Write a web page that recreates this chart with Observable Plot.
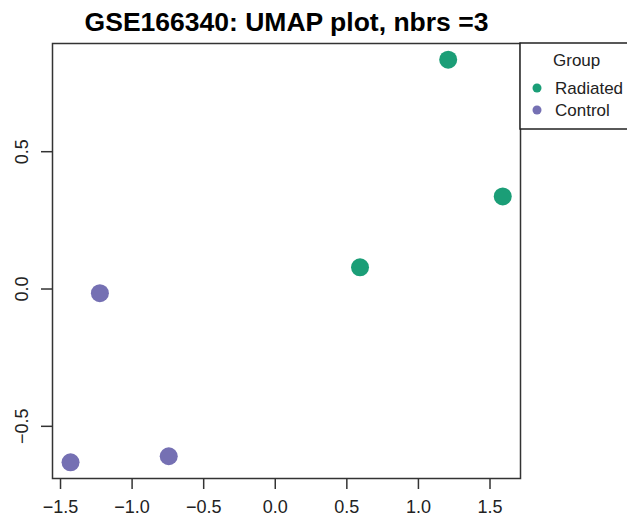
<!DOCTYPE html>
<html>
<head>
<meta charset="utf-8">
<script src="https://cdn.jsdelivr.net/npm/d3@7"></script>
<script src="https://cdn.jsdelivr.net/npm/@observablehq/plot@0.6"></script>
<style>
  html, body { margin: 0; padding: 0; background: #fff; }
  #chart svg { display: block; }
</style>
</head>
<body>
<div id="chart"></div>
<script>
const title = "GSE166340: UMAP plot, nbrs =3";
const groups = ["Radiated", "Control"];
const groupColors = ["#1B9E77", "#7570B3"];
const sampleGroup = ["Radiated", "Radiated", "Radiated", "Control", "Control", "Control"];
const umap1 = [1.208, 1.589, 0.592, -1.225, -1.430, -0.744];
const umap2 = [0.835, 0.337, 0.079, -0.015, -0.631, -0.609];
const xTicks = [-1.5, -1.0, -0.5, 0.0, 0.5, 1.0, 1.5];
const yTicks = [-0.5, 0.0, 0.5];

const data = umap1.map((x, i) => ({x, y: umap2[i], group: sampleGroup[i]}));

const font = "'Liberation Sans', Arial, Helvetica, sans-serif";
const W = 627, H = 518;
const mL = 52, mR = 107, mT = 43, mB = 40;

const plot = Plot.plot({
  width: W,
  height: H,
  marginLeft: mL,
  marginRight: mR,
  marginTop: mT,
  marginBottom: mB,
  style: {fontFamily: font, background: "#fff", color: "#222"},
  x: {domain: [-1.556, 1.713]},
  y: {domain: [-0.690, 0.894]},
  color: {domain: groups, range: groupColors},
  marks: [
    Plot.frame({stroke: "#333", strokeWidth: 1.5}),
    Plot.axisX({ticks: xTicks, tickFormat: d3.format(".1f"), tickSize: 11, tickPadding: 11,
      fontSize: 18, label: null, stroke: "#333", strokeWidth: 1.5, fill: "#222"}),
    Plot.axisY({ticks: yTicks, tickFormat: d3.format(".1f"), tickSize: 11, tickPadding: 14,
      tickRotate: -90, fontSize: 18, label: null, stroke: "#333", strokeWidth: 1.5, fill: "#222"}),
    Plot.dot(data, {x: "x", y: "y", fill: "group", r: 9, stroke: null}),
    Plot.text([title], {frameAnchor: "top", dy: -21, lineAnchor: "middle",
      fontSize: 26.5, fontWeight: "bold", fill: "#000", fontFamily: font})
  ]
});

document.getElementById("chart").appendChild(plot);

// Legend box outside the plotting frame (right side), like R's legend(xpd=TRUE)
const svg = d3.select(plot);
const color = plot.scale("color");
const lg = svg.append("g").attr("font-family", font).attr("font-size", 17)
  .attr("text-anchor", "start");
const lx = W - mR;
lg.append("rect").attr("x", lx).attr("y", mT).attr("width", 140).attr("height", 86)
  .attr("fill", "#fff").attr("stroke", "#222").attr("stroke-width", 1.5);
lg.append("text").attr("x", lx + 33).attr("y", mT + 23).attr("fill", "#222")
  .attr("text-anchor", "start").text("Group");
groups.forEach((g, i) => {
  const cy = mT + 45 + i * 22;
  lg.append("circle").attr("cx", lx + 17).attr("cy", cy).attr("r", 4.5)
    .attr("fill", color.apply(g));
  lg.append("text").attr("x", lx + 35).attr("y", cy + 6).attr("fill", "#222")
    .attr("text-anchor", "start").text(g);
});
</script>
</body>
</html>
